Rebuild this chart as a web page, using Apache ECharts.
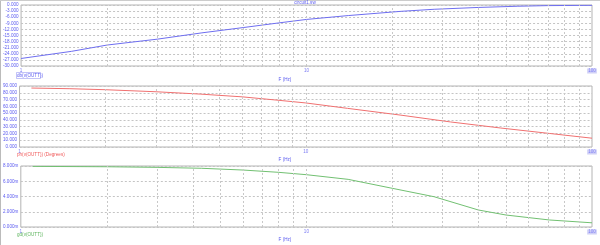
<!DOCTYPE html>
<html><head><meta charset="utf-8">
<script src="https://cdn.jsdelivr.net/npm/echarts@6/dist/echarts.min.js"></script>
<style>html,body{margin:0;padding:0;background:#fff}#c{width:600px;height:245px}</style>
</head><body><div id="c"></div>
<script>
// ---- data ----
const dbFreq = [1, 1.5, 2, 3, 4.3, 6, 8, 10, 14, 21.5, 28, 40, 55, 70, 100];
const dbVals = [-26.3, -22.8, -19.7, -16.8, -13.7, -11.1, -8.8, -7.1, -5.2, -3.1, -2.1, -1.2, -0.6, -0.3, -0.15];

const phFreq = [1.1, 1.5, 2, 3, 4.3, 6, 8, 10, 14, 21.5, 32, 48, 71, 100];
const phVals = [87, 86, 84.5, 81.5, 78, 74, 69, 65, 57, 47, 37, 28, 20, 13];

const gdFreq = [1.1, 2, 3, 4.3, 6, 8, 10, 14, 20, 28, 40, 50, 71, 100];
const gdMs   = [7.95, 7.9, 7.82, 7.7, 7.47, 7.17, 6.86, 6.25, 5.07, 3.97, 2.23, 1.57, 0.92, 0.55];

const xTickLabels = [1, 10, 100];
const minorGridFreqs = [2,3,4,5,6,7,8,9,10,20,30,40,50,60,70,80,90];

const dbAxis = {min: -30, max: 0, interval: 3};
const phAxis = {min: 0, max: 90, interval: 10};
const gdAxis = {min: 0, max: 8, interval: 2};

// ---- chart ----
const txtBlue = '#5a5af0';
const fs = 4.6;
const axesY = [dbAxis, phAxis, gdAxis];
const grids = [
  {left: 18, right: 8, top: 5, height: 61},
  {left: 18, right: 8, top: 86, height: 61},
  {left: 18, right: 8, top: 166, height: 61}
].map(g => Object.assign(g, {show: true, borderColor: '#b4b4b4', borderWidth: 1}));

function xAx(i) {
  return {
    type: 'log', logBase: 10, min: 1, max: 100, gridIndex: i,
    axisLine: {show: false}, axisTick: {show: false}, splitLine: {show: false},
    axisLabel: {show: false}
  };
}
function yAx(i, ax, fmt) {
  return {
    type: 'value', gridIndex: i, min: ax.min, max: ax.max, interval: ax.interval,
    axisLine: {show: false}, axisTick: {show: false},
    splitLine: {show: true, lineStyle: {type: [2, 2], color: '#c4c4c4', width: 1}},
    axisLabel: {fontSize: fs, color: txtBlue, margin: 2.5, formatter: fmt}
  };
}
const vGrid = {
  symbol: 'none', silent: true, label: {show: false}, animation: false,
  lineStyle: {type: [2, 2], color: '#c8c8c8', width: 1},
  data: minorGridFreqs.map(f => ({xAxis: f}))
};
function ser(i, fr, vals, color) {
  return {
    type: 'line', xAxisIndex: i, yAxisIndex: i, showSymbol: false, symbol: 'none',
    data: fr.map((f, k) => [f, vals[k]]), lineStyle: {color: color, width: 1}, itemStyle: {color: color},
    markLine: vGrid, z: 3
  };
}
// frequency tick labels placed through the axis scale
function tickSer(i) {
  return {
    type: 'scatter', xAxisIndex: i, yAxisIndex: i, symbolSize: 0, clip: false, silent: true,
    data: xTickLabels.map(t => [t, axesY[i].min]),
    label: {
      show: true, position: 'bottom', distance: 2.5, fontSize: fs, color: txtBlue,
      formatter: p => (p.value[0] === 100 ? '{h|100}' : String(p.value[0])),
      rich: {h: {backgroundColor: '#c4c4f4', color: '#6a6af6', fontSize: fs, padding: [0, 1]}}
    },
    z: 5
  };
}
function txt(x, y, s, color, align) {
  return {type: 'text', x: x, y: y, style: {text: s, fill: color, font: fs + 'px "Liberation Sans"', textAlign: align || 'left', textVerticalAlign: 'middle'}};
}

const chart = echarts.init(document.getElementById('c'), null, {renderer: 'canvas'});
chart.setOption({
  animation: false,
  grid: grids,
  xAxis: [xAx(0), xAx(1), xAx(2)],
  yAxis: [
    yAx(0, dbAxis, v => v.toFixed(3)),
    yAx(1, phAxis, v => v.toFixed(3)),
    yAx(2, gdAxis, v => v.toFixed(3) + 'm')
  ],
  series: [
    ser(0, dbFreq, dbVals, '#6e6ef0'),
    ser(1, phFreq, phVals, '#f07070'),
    ser(2, gdFreq, gdMs, '#72c072'),
    tickSer(0), tickSer(1), tickSer(2)
  ],
  graphic: [
    {type: 'line', shape: {x1: 0.5, y1: 0, x2: 0.5, y2: 245}, style: {stroke: '#bbbbbb', lineWidth: 1}},
    {type: 'line', shape: {x1: 0, y1: 0.5, x2: 600, y2: 0.5}, style: {stroke: '#cccccc', lineWidth: 1}},
    txt(305, 3, 'circuit1.sw', txtBlue, 'center'),
    txt(17, 75.5, 'db(v(OUTT))', txtBlue),
    {type: 'rect', shape: {x: 16.5, y: 72.5, width: 24, height: 6}, style: {fill: 'none', stroke: '#9a9af4', lineWidth: 0.6}},
    txt(285, 80, 'F (Hz)', txtBlue, 'center'),
    txt(17, 155, 'ph(v(OUTT)) (Degrees)', '#f05a5a'),
    txt(285, 160, 'F (Hz)', txtBlue, 'center'),
    txt(17, 235, 'gd(v(OUTT))', '#5cb45c'),
    txt(285, 240, 'F (Hz)', txtBlue, 'center')
  ]
});
</script></body></html>
